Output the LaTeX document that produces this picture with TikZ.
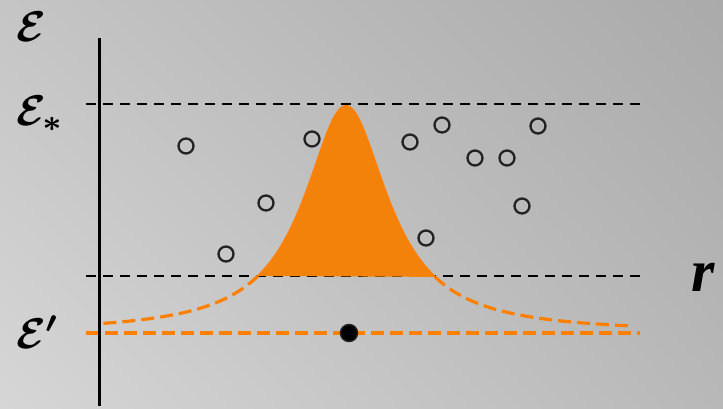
\documentclass[tikz,border=0pt]{standalone}
\usepackage{fontspec}
\usepackage{graphicx}
\usetikzlibrary{shadings}
\newfontfamily\rfont{Liberation Serif}
\definecolor{peakfill}{RGB}{242,130,10}
\definecolor{peakline}{RGB}{255,128,0}
\definecolor{ringcol}{RGB}{34,34,34}
\definecolor{bgUL}{RGB}{197,197,197}
\definecolor{bgUR}{RGB}{170,170,170}
\definecolor{bgLL}{RGB}{214,214,214}
\definecolor{bgLR}{RGB}{184,184,184}
\newcommand{\biglab}[1]{\scalebox{4.3}{\boldmath#1}}
\tikzset{
  level/.style={black, line width=1.8pt, dash pattern=on 10pt off 7pt},
  tail/.style={peakline, line width=3.2pt, dash pattern=on 13pt off 6pt},
  particle/.style={circle, draw=ringcol, line width=2.3pt, minimum size=15pt, inner sep=0pt},
  bound/.style={circle, fill=black, draw=ringcol, line width=1.5pt, minimum size=17pt, inner sep=0pt},
  biglabel/.style={inner sep=0pt, anchor=base west},
}
\begin{document}
\begin{tikzpicture}[x=1pt, y=-1pt]
  % backdrop
  \shade[upper left=bgUL, upper right=bgUR, lower left=bgLL, lower right=bgLR]
    (0,0) rectangle (723,408);
  \useasboundingbox (0,0) rectangle (723,408);

  % reference levels
  \coordinate (topL) at (86,104);   \coordinate (topR) at (640,104);
  \coordinate (midL) at (86,276);   \coordinate (midR) at (640,276);
  \coordinate (lowL) at (86,333);   \coordinate (lowR) at (640,333);
  \draw[level] (topL) -- (topR);
  \draw[level] (midL) -- (midR);
  \draw[tail]  (lowL) -- (lowR);

  % resonance profile: filled above the middle level, dashed tails below
  \fill[peakfill] plot[domain=258:435, samples=120]
      (\x, {333-227/(1+((\x-346)/51)^2)}) -- cycle;
  \draw[peakline, line width=2pt, line join=round]
      plot[domain=258:435, samples=120] (\x, {333-227/(1+((\x-346)/51)^2)});
  \draw[tail] plot[domain=258:101, samples=60] (\x, {333-227/(1+((\x-346)/51)^2)});
  \draw[tail] plot[domain=435:630, samples=60] (\x, {333-227/(1+((\x-346)/51)^2)});

  % energy axis
  \coordinate (axTop) at (99,38);
  \coordinate (axBot) at (99,406);
  \draw[black, line width=3pt] (axTop) -- (axBot);

  % labels
  \node[biglabel] (eps)  at (16,41)  {\biglab{$\mathcal{E}$}};
  \node[biglabel] (epsS) at (16,125) {\biglab{$\mathcal{E}_{*}$}};
  \node[biglabel] (epsP) at (16,348) {\biglab{$\mathcal{E}'$}};
  \node[inner sep=0pt, font=\fontsize{60}{60}\selectfont\rfont\bfseries\itshape] (rlab) at (703,277) {r};

  % bound state
  \node[bound] (b0) at (349,333) {};

  % continuum states
  \node[particle] (p1)  at (186,146) {};
  \node[particle] (p2)  at (226,254) {};
  \node[particle] (p3)  at (266,203) {};
  \node[particle] (p4)  at (312,139) {};
  \node[particle] (p5)  at (410,142) {};
  \node[particle] (p6)  at (442,125) {};
  \node[particle] (p7)  at (475,158) {};
  \node[particle] (p8)  at (507,158) {};
  \node[particle] (p9)  at (538,126) {};
  \node[particle] (p10) at (522,206) {};
  \node[particle] (p11) at (426,238) {};
\end{tikzpicture}
\end{document}
